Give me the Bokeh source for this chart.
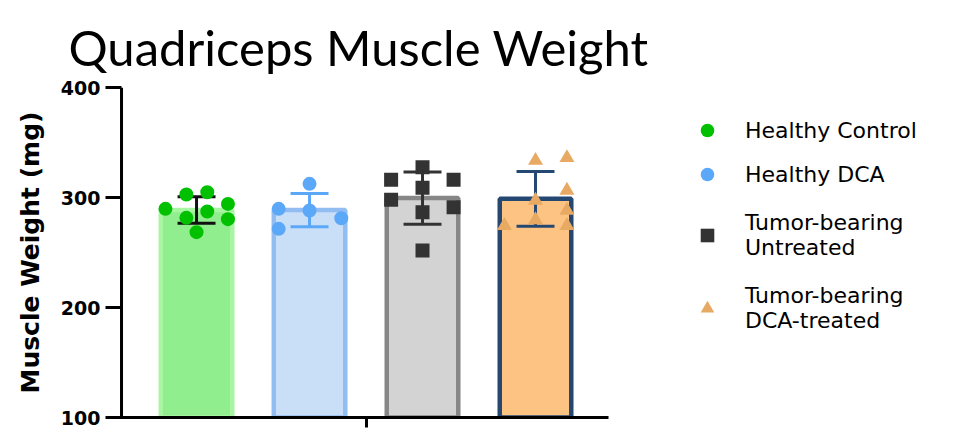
import numpy as np
from bokeh.plotting import figure
from bokeh.layouts import column, row
from bokeh.models import Range1d, FixedTicker, Span, Legend, LegendItem
from bokeh.core.properties import value
from bokeh.embed import file_html
from bokeh.resources import INLINE

# Group names (legend labels) and individual animal measurements (mg)
title_text = "Quadriceps Muscle Weight"
groups = ["Healthy Control", "Healthy DCA",
          "Tumor-bearing\nUntreated", "Tumor-bearing\nDCA-treated"]

healthy_control = [289.7, 302.7, 304.8, 294.2, 287.3, 281.5, 280.3, 268.5]
healthy_dca = [289.7, 312.4, 288.2, 281.2, 271.5]
tumor_untreated = [327.6, 316.1, 316.1, 308.8, 297.9, 291.2, 286.6, 251.8]
tumor_dca = [333.6, 336.1, 306.4, 297.3, 288.2, 279.7, 274.5, 274.5]

# Horizontal scatter offsets of the points within each bar (category units)
healthy_control_jitter = [-0.275, -0.09, 0.095, 0.278, 0.095, -0.09, 0.278, 0.0]
healthy_dca_jitter = [-0.273, 0.0, 0.0, 0.281, -0.273]
tumor_untreated_jitter = [0.0, -0.278, 0.275, 0.0, -0.278, 0.275, 0.0, 0.0]
tumor_dca_jitter = [0.0, 0.278, 0.278, 0.0, 0.278, 0.0, -0.275, 0.278]

y_ticks = [100, 200, 300, 400]

values = [healthy_control, healthy_dca, tumor_untreated, tumor_dca]
jitters = [healthy_control_jitter, healthy_dca_jitter,
           tumor_untreated_jitter, tumor_dca_jitter]
positions = [1, 2, 3, 4]

bar_fill = ["#91EE8E", "#C9DEF7", "#D3D3D3", "#FCC383"]
bar_edge = ["#A8F5A2", "#92BDF2", "#878787", "#244872"]
err_color = ["#111111", "#5CA8F8", "#333333", "#244872"]
pt_color = ["#00C000", "#5CA8F8", "#333333", "#E8AA63"]
pt_marker = ["circle", "circle", "square", "triangle"]
pt_size = [14, 14, 14, 15]

means = [float(np.mean(v)) for v in values]
sds = [float(np.std(v, ddof=1)) for v in values]

TOTAL_W, TOTAL_H = 958, 428
HEAD_H = 77          # strip holding the heading
MAIN_W = 640         # plot area width (axes + bars)
BODY_H = TOTAL_H - HEAD_H


def bare(fig):
    fig.outline_line_color = None
    fig.grid.visible = False
    fig.axis.visible = False
    fig.background_fill_color = "white"
    fig.border_fill_color = "white"
    fig.min_border = 0


# Heading strip
head = figure(width=TOTAL_W, height=HEAD_H, output_backend="svg", toolbar_location=None,
              x_range=Range1d(0, TOTAL_W), y_range=Range1d(HEAD_H, 0))
bare(head)
head.text(x=[68], y=[46], text=[title_text], text_font=value("Lato"),
          text_font_size="49px", text_baseline="alphabetic", text_align="left",
          text_color="black")

# Main plot
p = figure(width=MAIN_W, height=BODY_H, output_backend="svg", toolbar_location=None,
           x_range=Range1d(0.212, 4.646), y_range=Range1d(100, 400),
           min_border_left=107, min_border_right=32,
           min_border_top=10, min_border_bottom=11)
p.outline_line_color = None
p.grid.visible = False
p.background_fill_color = "white"
p.border_fill_color = "white"

# Bars (mean)
p.vbar(x=positions, width=0.633, bottom=100, top=means,
       fill_color=bar_fill, line_color=bar_edge, line_width=4.5)

# Error bars (mean ± SD)
cap = 0.168
lo = [m - s for m, s in zip(means, sds)]
hi = [m + s for m, s in zip(means, sds)]
p.segment(x0=positions, y0=lo, x1=positions, y1=hi, line_color=err_color, line_width=3)
p.segment(x0=[x - cap for x in positions], y0=hi, x1=[x + cap for x in positions], y1=hi,
          line_color=err_color, line_width=3)
p.segment(x0=[x - cap for x in positions], y0=lo, x1=[x + cap for x in positions], y1=lo,
          line_color=err_color, line_width=3)

# Individual points
for i, (vals, jit) in enumerate(zip(values, jitters)):
    xs = [positions[i] + j for j in jit]
    p.scatter(x=xs, y=vals, marker=pt_marker[i], size=pt_size[i],
              fill_color=pt_color[i], line_color=pt_color[i], line_width=0)

# Y axis: its line is drawn as a span a little inside the frame
p.yaxis.ticker = FixedTicker(ticks=y_ticks)
p.yaxis.axis_line_alpha = 0
p.yaxis.major_tick_in = 14
p.yaxis.major_tick_out = 2
p.yaxis.major_tick_line_width = 3
p.yaxis.major_tick_line_color = "black"
p.yaxis.minor_tick_line_color = None
p.yaxis.major_label_text_font = "DejaVu Sans"
p.yaxis.major_label_text_font_style = "bold"
p.yaxis.major_label_text_font_size = "19px"
p.yaxis.major_label_text_color = "black"
p.yaxis.major_label_standoff = 5
p.yaxis.axis_label = "Muscle Weight (mg)"
p.yaxis.axis_label_text_font = "DejaVu Sans"
p.yaxis.axis_label_text_font_style = "bold"
p.yaxis.axis_label_text_font_size = "25px"
p.yaxis.axis_label_text_color = "black"
p.yaxis.axis_label_standoff = 13
p.add_layout(Span(location=0.336, dimension="height", line_color="black", line_width=3))

# X axis: plain baseline with a single central tick
p.xaxis.ticker = FixedTicker(ticks=[2.5])
p.xaxis.major_label_overrides = {2.5: ""}
p.xaxis.major_label_text_font_size = "0px"
p.xaxis.major_label_standoff = 0
p.xaxis.axis_line_width = 3
p.xaxis.axis_line_color = "black"
p.xaxis.major_tick_in = 0
p.xaxis.major_tick_out = 10
p.xaxis.major_tick_line_width = 3
p.xaxis.major_tick_line_color = "black"
p.xaxis.minor_tick_line_color = None

# Legend panel: key glyphs come from off-screen renderers styled like the points
leg = figure(width=TOTAL_W - MAIN_W, height=BODY_H, output_backend="svg",
             toolbar_location=None, x_range=Range1d(0, 1), y_range=Range1d(0, 1))
bare(leg)
items = []
for i in range(len(groups)):
    r = leg.scatter(x=[-5], y=[-5], marker=pt_marker[i], size=pt_size[i],
                    fill_color=pt_color[i], line_color=pt_color[i], line_width=0)
    items.append(LegendItem(label=groups[i], renderers=[r]))

legend_style = dict(glyph_width=34, glyph_height=34, label_standoff=21,
                    padding=0, margin=0, border_line_alpha=0, background_fill_alpha=0,
                    label_text_font="DejaVu Sans", label_text_font_size="22px",
                    label_text_color="black")
# single-line entries and two-line entries are stacked with different gaps
leg.add_layout(Legend(items=items[:2], location=(50, 226), spacing=10, **legend_style))
leg.add_layout(Legend(items=items[2:], location=(50, 84), spacing=23, **legend_style))

layout = column(head, row(p, leg, spacing=0), spacing=0)
open("out.html", "w").write(file_html(layout, INLINE))
